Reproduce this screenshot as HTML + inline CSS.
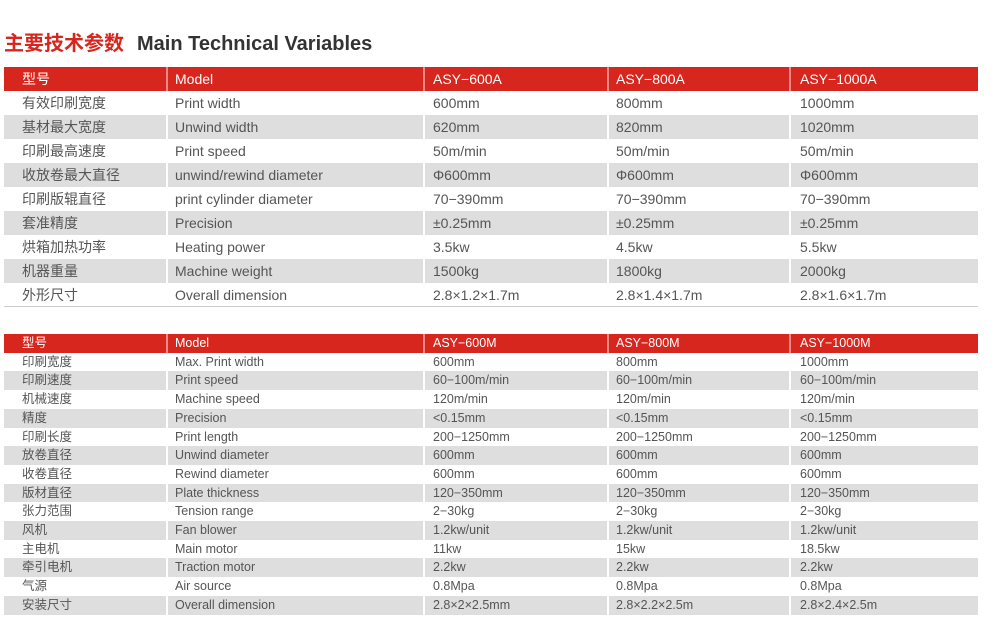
<!DOCTYPE html>
<html><head><meta charset="utf-8"><style>
body{margin:0;width:1000px;height:621px;background:#fff;position:relative;overflow:hidden;font-family:"Liberation Sans","Noto Sans CJK SC",sans-serif;color:#555}
.t{position:absolute;white-space:nowrap}
.r{position:absolute;left:4px;width:974px}
.c{position:absolute;top:0;white-space:nowrap}
.h{background:#d7261e;color:#fff}
.g{background:#dedede}
.v{position:absolute;top:0;width:2px;background:#fff}
.h .v{background:#e98a86}
</style></head><body>
<div class="t" style="left:4px;top:27px;font-size:20px;font-weight:bold;color:#d7261e;font-family:'Noto Sans CJK SC',sans-serif">主要技术参数</div>
<div class="t" style="left:137px;top:33px;font-size:20px;font-weight:bold;color:#333">Main Technical Variables</div>
<div id="t1"></div><div id="t2"></div>
<script>
const cols=[18,171,429,612,796],vs=[162,419,603,785];
function tab(id,top,h,fs,rows,alt,dy){let s='';rows.forEach((r,i)=>{let cls=i==0?'h':(alt(i)?'g':'');let y=top+Math.round(i*h);let hh=Math.round((i+1)*h)-Math.round(i*h);
s+=`<div class="r ${cls}" style="top:${y}px;height:${hh}px;line-height:${hh}px;font-size:${fs}px">`;
r.forEach((t,j)=>s+=`<div class="c" style="left:${cols[j]}px;top:${dy}px">${t}</div>`);
vs.forEach(x=>s+=`<div class="v" style="left:${x}px;height:${hh}px"></div>`);s+='</div>';});
document.getElementById(id).innerHTML=s;}
tab('t1',67,24,14,[
['型号','Model','ASY−600A','ASY−800A','ASY−1000A'],
['有效印刷宽度','Print width','600mm','800mm','1000mm'],
['基材最大宽度','Unwind width','620mm','820mm','1020mm'],
['印刷最高速度','Print speed','50m/min','50m/min','50m/min'],
['收放卷最大直径','unwind/rewind diameter','Φ600mm','Φ600mm','Φ600mm'],
['印刷版辊直径','print cylinder diameter','70−390mm','70−390mm','70−390mm'],
['套准精度','Precision','±0.25mm','±0.25mm','±0.25mm'],
['烘箱加热功率','Heating power','3.5kw','4.5kw','5.5kw'],
['机器重量','Machine weight','1500kg','1800kg','2000kg'],
['外形尺寸','Overall dimension','2.8×1.2×1.7m','2.8×1.4×1.7m','2.8×1.6×1.7m']],i=>i%2==0,0);
tab('t2',334,18.7,12.5,[
['型号','Model','ASY−600M','ASY−800M','ASY−1000M'],
['印刷宽度','Max. Print width','600mm','800mm','1000mm'],
['印刷速度','Print speed','60−100m/min','60−100m/min','60−100m/min'],
['机械速度','Machine speed','120m/min','120m/min','120m/min'],
['精度','Precision','&lt;0.15mm','&lt;0.15mm','&lt;0.15mm'],
['印刷长度','Print length','200−1250mm','200−1250mm','200−1250mm'],
['放卷直径','Unwind diameter','600mm','600mm','600mm'],
['收卷直径','Rewind diameter','600mm','600mm','600mm'],
['版材直径','Plate thickness','120−350mm','120−350mm','120−350mm'],
['张力范围','Tension range','2−30kg','2−30kg','2−30kg'],
['风机','Fan blower','1.2kw/unit','1.2kw/unit','1.2kw/unit'],
['主电机','Main motor','11kw','15kw','18.5kw'],
['牵引电机','Traction motor','2.2kw','2.2kw','2.2kw'],
['气源','Air source','0.8Mpa','0.8Mpa','0.8Mpa'],
['安装尺寸','Overall dimension','2.8×2×2.5mm','2.8×2.2×2.5m','2.8×2.4×2.5m']],i=>i%2==0,0);
</script>
<div style="position:absolute;left:4px;top:306px;width:974px;height:1px;background:#ccc"></div>
</body></html>
